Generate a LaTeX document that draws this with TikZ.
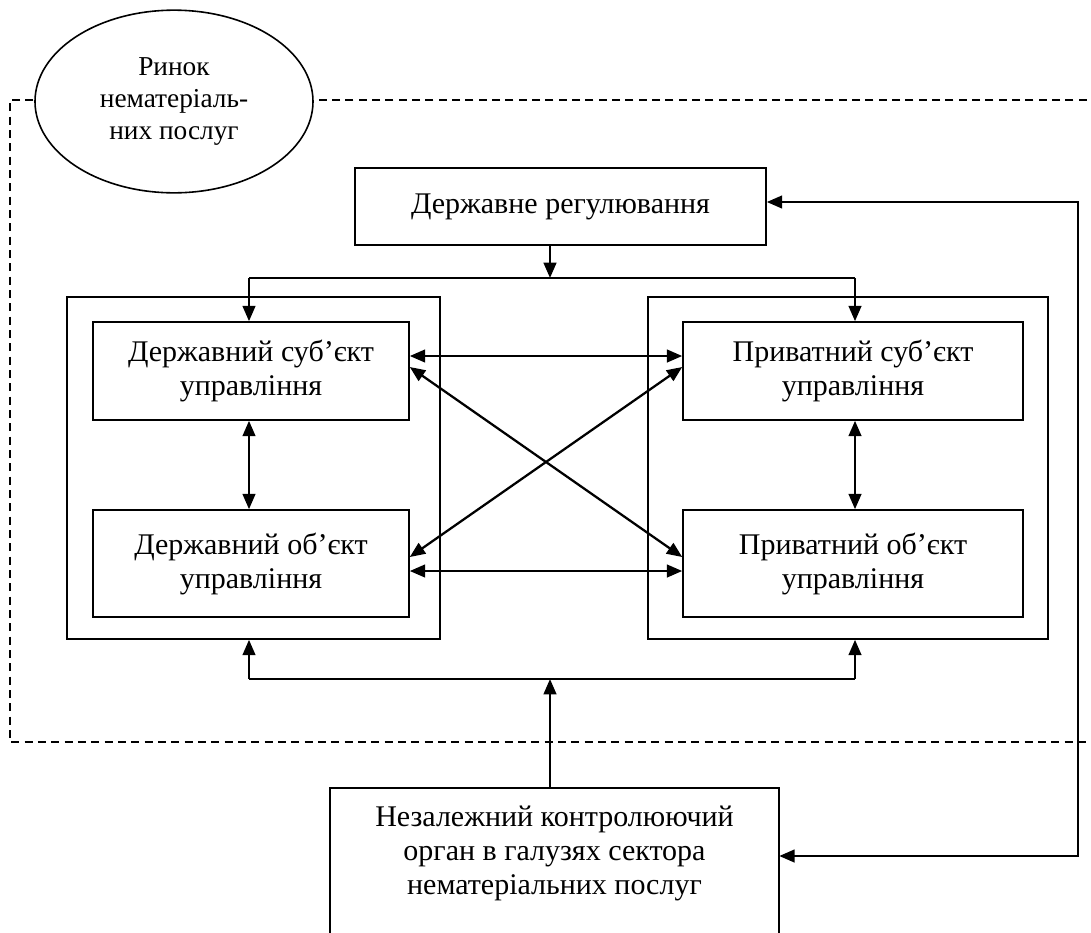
\documentclass[tikz,border=0pt]{standalone}
\usepackage{fontspec}
\setmainfont{Liberation Serif}
\usetikzlibrary{arrows.meta,shapes.geometric,calc}
\tikzset{
  txt/.style={font=\fontsize{22.5}{25.5}\selectfont, align=center},
  box/.style={draw, line width=1.2pt, inner sep=0pt, txt},
  frame/.style={draw, line width=1.2pt, inner sep=0pt},
  tip/.style={Triangle[length=11.5pt,width=9.5pt]},
  arr/.style={line width=1.7pt, -{Triangle[length=11.5pt,width=9.5pt]}},
  darr/.style={line width=1.7pt, {Triangle[length=11.5pt,width=9.5pt]}-{Triangle[length=11.5pt,width=9.5pt]}},
  plain/.style={line width=1.7pt},
  market/.style={draw, fill=white, ellipse, line width=1.2pt, inner sep=0pt,
    font=\fontsize{20.5}{24}\selectfont, align=center},
  zone/.style={dashed, line width=0.9pt, dash pattern=on 6pt off 4pt}
}
\begin{document}
\begin{tikzpicture}[x=0.75pt,y=-0.75pt]
\useasboundingbox (0,0) rectangle (1091,932);
% market zone (dashed)
\draw[zone] (1100,100) -- (10,100) -- (10,742) -- (1100,742);
\node[market, minimum width=208.5pt, minimum height=137pt] (mkt) at (174,101.5)
  {Ринок\\ нематеріаль-\\ них послуг};
% state regulation
\node[box, minimum width=308.25pt, minimum height=57.75pt] (reg) at (560.5,206.5)
  {Державне регулювання};
% outer frames
\node[frame, minimum width=279.75pt, minimum height=256.5pt] (lframe) at (253.5,468) {};
\node[frame, minimum width=300pt, minimum height=256.5pt] (rframe) at (848,468) {};
% inner boxes
\node[box, minimum width=237pt, minimum height=73.5pt] (gs) at (251,371)
  {Державний суб’єкт\\ управління};
\node[box, minimum width=237pt, minimum height=80.25pt] (go) at (251,563.5)
  {Державний об’єкт\\ управління};
\node[box, minimum width=255pt, minimum height=73.5pt] (ps) at (853,371)
  {Приватний суб’єкт\\ управління};
\node[box, minimum width=255pt, minimum height=80.25pt] (po) at (853,563.5)
  {Приватний об’єкт\\ управління};
% independent control body (bottom, cut by page edge)
\node[txt, minimum width=336.75pt, minimum height=97.5pt, inner sep=0pt] (ctrl) at (554.5,853)
  {Незалежний контролюючий\\ орган в галузях сектора\\ нематеріальних послуг};
\draw[line width=1.2pt] (ctrl.north west |- 0,945) -- (ctrl.north west) -- (ctrl.north east) -- (ctrl.north east |- 0,945);
% coordinates of junctions
\coordinate (tj) at (550,278);
\coordinate (tl) at (249,278);
\coordinate (tr) at (855,278);
\coordinate (bj) at (550,679);
\coordinate (bl) at (249,679);
\coordinate (br) at (855,679);
\coordinate (rt) at (1078,202);
\coordinate (rb) at (1078,856);
% top distribution
\draw[arr] (tj |- reg.south) -- (tj);
\draw[plain] (tl) -- (tr);
\draw[arr] (tl) -- (tl |- gs.north);
\draw[arr] (tr) -- (tr |- ps.north);
% vertical links inside frames
\draw[darr] (gs.south -| tl) -- (go.north -| tl);
\draw[darr] (ps.south -| tr) -- (po.north -| tr);
% horizontal and diagonal links
\draw[darr] (gs.east |- 0,356) -- (ps.west |- 0,356);
\draw[darr] (go.east |- 0,571) -- (po.west |- 0,571);
\draw[darr] (gs.east |- 0,367) -- (po.west |- 0,557);
\draw[darr] (go.east |- 0,557) -- (ps.west |- 0,367);
% bottom distribution
\draw[arr] (bj |- ctrl.north) -- (bj);
\draw[plain] (bl) -- (br);
\draw[arr] (bl) -- (bl |- lframe.south);
\draw[arr] (br) -- (br |- rframe.south);
% right feedback bracket
\draw[darr] (reg.east |- rt) -- (rt) -- (rb) -- (ctrl.east |- rb);
\end{tikzpicture}
\end{document}
